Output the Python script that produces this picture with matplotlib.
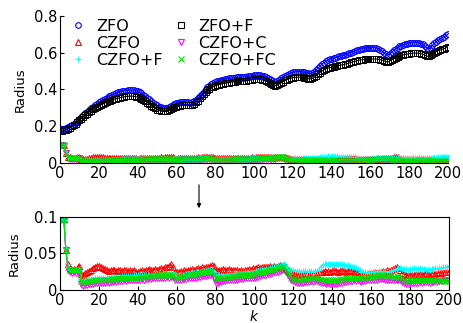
import matplotlib
matplotlib.use("Agg")
import matplotlib.pyplot as plt
from matplotlib.lines import Line2D

plt.rcParams['font.family'] = ['DejaVu Sans']

k = list(range(1, 201))

zfo = [0.185, 0.186, 0.190, 0.194, 0.200, 0.207, 0.214, 0.222, 0.231, 0.240,
       0.250, 0.260, 0.270, 0.280, 0.290, 0.299, 0.307, 0.315, 0.323, 0.330,
       0.337, 0.344, 0.350, 0.356, 0.362, 0.367, 0.372, 0.376, 0.380, 0.384,
       0.387, 0.390, 0.392, 0.394, 0.395, 0.396, 0.396, 0.395, 0.393, 0.390,
       0.385, 0.379, 0.372, 0.364, 0.355, 0.346, 0.337, 0.328, 0.320, 0.313,
       0.307, 0.302, 0.299, 0.298, 0.300, 0.304, 0.310, 0.316, 0.321, 0.325,
       0.329, 0.332, 0.333, 0.333, 0.332, 0.330, 0.329, 0.330, 0.336, 0.344,
       0.354, 0.365, 0.377, 0.389, 0.400, 0.411, 0.420, 0.428, 0.435, 0.440,
       0.444, 0.448, 0.451, 0.454, 0.456, 0.458, 0.460, 0.462, 0.463, 0.465,
       0.466, 0.466, 0.467, 0.468, 0.468, 0.469, 0.471, 0.473, 0.475, 0.477,
       0.478, 0.478, 0.477, 0.475, 0.472, 0.468, 0.463, 0.456, 0.450, 0.445,
       0.441, 0.445, 0.453, 0.461, 0.468, 0.475, 0.481, 0.486, 0.490, 0.493,
       0.495, 0.497, 0.497, 0.497, 0.496, 0.494, 0.491, 0.488, 0.486, 0.490,
       0.497, 0.506, 0.516, 0.527, 0.537, 0.546, 0.553, 0.559, 0.564, 0.568,
       0.571, 0.574, 0.577, 0.580, 0.583, 0.586, 0.589, 0.593, 0.597, 0.601,
       0.605, 0.609, 0.613, 0.617, 0.620, 0.623, 0.625, 0.627, 0.628, 0.628,
       0.628, 0.627, 0.625, 0.622, 0.617, 0.609, 0.600, 0.591, 0.588, 0.595,
       0.604, 0.613, 0.621, 0.628, 0.634, 0.639, 0.643, 0.647, 0.650, 0.652,
       0.654, 0.655, 0.655, 0.655, 0.653, 0.650, 0.645, 0.637, 0.627, 0.620,
       0.628, 0.640, 0.651, 0.661, 0.669, 0.676, 0.682, 0.688, 0.694, 0.700]

zfo_f = [0.175, 0.177, 0.181, 0.186, 0.192, 0.199, 0.206, 0.214, 0.223, 0.232,
         0.241, 0.250, 0.259, 0.268, 0.277, 0.285, 0.292, 0.299, 0.305, 0.311,
         0.317, 0.322, 0.327, 0.332, 0.336, 0.340, 0.344, 0.347, 0.350, 0.353,
         0.356, 0.358, 0.360, 0.362, 0.363, 0.364, 0.364, 0.363, 0.361, 0.358,
         0.354, 0.349, 0.343, 0.336, 0.328, 0.320, 0.312, 0.304, 0.297, 0.291,
         0.286, 0.283, 0.281, 0.281, 0.283, 0.287, 0.292, 0.298, 0.303, 0.307,
         0.310, 0.312, 0.314, 0.315, 0.315, 0.314, 0.313, 0.315, 0.321, 0.330,
         0.340, 0.351, 0.363, 0.375, 0.386, 0.396, 0.404, 0.411, 0.416, 0.420,
         0.424, 0.427, 0.430, 0.432, 0.434, 0.436, 0.438, 0.440, 0.441, 0.443,
         0.444, 0.444, 0.445, 0.446, 0.446, 0.447, 0.449, 0.451, 0.453, 0.455,
         0.456, 0.456, 0.455, 0.453, 0.450, 0.446, 0.441, 0.435, 0.429, 0.424,
         0.420, 0.423, 0.430, 0.437, 0.443, 0.449, 0.454, 0.458, 0.461, 0.464,
         0.466, 0.467, 0.467, 0.467, 0.466, 0.464, 0.462, 0.459, 0.457, 0.460,
         0.466, 0.474, 0.483, 0.492, 0.500, 0.507, 0.512, 0.516, 0.519, 0.522,
         0.524, 0.527, 0.529, 0.531, 0.533, 0.535, 0.538, 0.541, 0.544, 0.547,
         0.550, 0.553, 0.556, 0.559, 0.561, 0.563, 0.564, 0.565, 0.566, 0.566,
         0.566, 0.566, 0.566, 0.565, 0.563, 0.560, 0.556, 0.551, 0.550, 0.555,
         0.561, 0.567, 0.572, 0.577, 0.581, 0.585, 0.588, 0.591, 0.593, 0.595,
         0.597, 0.598, 0.598, 0.598, 0.597, 0.595, 0.592, 0.587, 0.582, 0.580,
         0.585, 0.593, 0.600, 0.606, 0.611, 0.615, 0.619, 0.623, 0.627, 0.631]

czfo = [0.100, 0.097, 0.055, 0.035, 0.030, 0.028, 0.029, 0.028, 0.031, 0.033,
        0.022, 0.021, 0.023, 0.024, 0.026, 0.028, 0.030, 0.032, 0.033, 0.033,
        0.032, 0.030, 0.029, 0.028, 0.026, 0.027, 0.028, 0.027, 0.026, 0.028,
        0.027, 0.026, 0.028, 0.027, 0.026, 0.027, 0.026, 0.028, 0.025, 0.024,
        0.026, 0.027, 0.026, 0.028, 0.027, 0.029, 0.028, 0.027, 0.029, 0.028,
        0.029, 0.030, 0.029, 0.031, 0.032, 0.033, 0.035, 0.031, 0.025, 0.024,
        0.025, 0.026, 0.025, 0.027, 0.026, 0.028, 0.027, 0.029, 0.028, 0.029,
        0.030, 0.029, 0.031, 0.030, 0.032, 0.031, 0.033, 0.034, 0.033, 0.027,
        0.026, 0.028, 0.027, 0.029, 0.028, 0.027, 0.029, 0.028, 0.027, 0.028,
        0.027, 0.026, 0.028, 0.026, 0.027, 0.028, 0.029, 0.028, 0.030, 0.029,
        0.030, 0.031, 0.030, 0.031, 0.032, 0.031, 0.032, 0.033, 0.032, 0.033,
        0.032, 0.033, 0.034, 0.033, 0.034, 0.030, 0.027, 0.025, 0.024, 0.023,
        0.022, 0.021, 0.022, 0.021, 0.022, 0.023, 0.022, 0.021, 0.023, 0.022,
        0.023, 0.022, 0.024, 0.025, 0.024, 0.026, 0.025, 0.026, 0.025, 0.026,
        0.027, 0.026, 0.025, 0.026, 0.027, 0.026, 0.025, 0.026, 0.027, 0.026,
        0.025, 0.026, 0.024, 0.022, 0.020, 0.021, 0.022, 0.021, 0.023, 0.022,
        0.023, 0.024, 0.023, 0.025, 0.024, 0.026, 0.025, 0.027, 0.026, 0.028,
        0.029, 0.030, 0.031, 0.030, 0.027, 0.023, 0.022, 0.021, 0.020, 0.021,
        0.020, 0.021, 0.022, 0.021, 0.022, 0.021, 0.022, 0.023, 0.022, 0.021,
        0.022, 0.023, 0.022, 0.023, 0.024, 0.023, 0.024, 0.025, 0.024, 0.025]

czfo_c = [0.100, 0.095, 0.055, 0.028, 0.024, 0.023, 0.024, 0.023, 0.024, 0.025,
          0.008, 0.006, 0.007, 0.007, 0.008, 0.008, 0.008, 0.009, 0.009, 0.009,
          0.010, 0.010, 0.010, 0.011, 0.010, 0.011, 0.011, 0.012, 0.011, 0.012,
          0.012, 0.012, 0.013, 0.012, 0.013, 0.013, 0.014, 0.013, 0.014, 0.014,
          0.014, 0.015, 0.014, 0.015, 0.015, 0.016, 0.015, 0.016, 0.016, 0.016,
          0.017, 0.016, 0.017, 0.017, 0.018, 0.017, 0.018, 0.018, 0.013, 0.013,
          0.014, 0.014, 0.015, 0.015, 0.015, 0.016, 0.016, 0.017, 0.017, 0.017,
          0.018, 0.018, 0.019, 0.019, 0.019, 0.020, 0.020, 0.021, 0.016, 0.010,
          0.010, 0.011, 0.011, 0.012, 0.012, 0.013, 0.013, 0.013, 0.014, 0.014,
          0.014, 0.015, 0.015, 0.015, 0.016, 0.016, 0.016, 0.017, 0.017, 0.017,
          0.018, 0.018, 0.019, 0.020, 0.020, 0.021, 0.022, 0.022, 0.023, 0.024,
          0.024, 0.025, 0.026, 0.027, 0.028, 0.024, 0.020, 0.017, 0.014, 0.012,
          0.011, 0.010, 0.009, 0.010, 0.010, 0.011, 0.011, 0.011, 0.012, 0.011,
          0.012, 0.012, 0.011, 0.010, 0.009, 0.009, 0.008, 0.009, 0.008, 0.009,
          0.008, 0.008, 0.009, 0.010, 0.010, 0.011, 0.011, 0.012, 0.012, 0.012,
          0.013, 0.012, 0.013, 0.012, 0.011, 0.012, 0.012, 0.013, 0.013, 0.013,
          0.014, 0.014, 0.014, 0.015, 0.015, 0.015, 0.014, 0.014, 0.014, 0.014,
          0.013, 0.013, 0.014, 0.013, 0.013, 0.011, 0.009, 0.008, 0.008, 0.009,
          0.009, 0.010, 0.010, 0.010, 0.011, 0.010, 0.011, 0.011, 0.011, 0.010,
          0.011, 0.011, 0.012, 0.011, 0.012, 0.012, 0.012, 0.013, 0.012, 0.012]

czfo_f = [0.100, 0.096, 0.056, 0.032, 0.027, 0.027, 0.028, 0.027, 0.028, 0.028,
          0.014, 0.013, 0.014, 0.014, 0.015, 0.015, 0.015, 0.016, 0.016, 0.016,
          0.016, 0.017, 0.017, 0.017, 0.017, 0.018, 0.018, 0.018, 0.018, 0.018,
          0.018, 0.019, 0.019, 0.019, 0.019, 0.019, 0.019, 0.020, 0.020, 0.020,
          0.020, 0.020, 0.021, 0.021, 0.021, 0.021, 0.021, 0.022, 0.022, 0.022,
          0.022, 0.022, 0.023, 0.023, 0.023, 0.023, 0.023, 0.024, 0.020, 0.019,
          0.020, 0.020, 0.021, 0.021, 0.022, 0.022, 0.022, 0.023, 0.023, 0.024,
          0.024, 0.025, 0.025, 0.026, 0.026, 0.027, 0.027, 0.028, 0.024, 0.020,
          0.020, 0.020, 0.021, 0.021, 0.021, 0.022, 0.022, 0.022, 0.022, 0.023,
          0.023, 0.023, 0.023, 0.024, 0.024, 0.024, 0.024, 0.025, 0.025, 0.025,
          0.026, 0.026, 0.027, 0.027, 0.028, 0.029, 0.029, 0.030, 0.031, 0.031,
          0.032, 0.033, 0.033, 0.034, 0.035, 0.032, 0.029, 0.028, 0.027, 0.027,
          0.026, 0.026, 0.026, 0.025, 0.026, 0.026, 0.025, 0.026, 0.026, 0.025,
          0.026, 0.026, 0.027, 0.032, 0.034, 0.035, 0.035, 0.036, 0.035, 0.036,
          0.036, 0.035, 0.036, 0.035, 0.035, 0.034, 0.033, 0.034, 0.033, 0.032,
          0.031, 0.030, 0.029, 0.027, 0.025, 0.024, 0.024, 0.023, 0.024, 0.024,
          0.024, 0.025, 0.025, 0.026, 0.026, 0.025, 0.026, 0.025, 0.025, 0.026,
          0.027, 0.028, 0.029, 0.030, 0.030, 0.029, 0.029, 0.029, 0.028, 0.029,
          0.029, 0.030, 0.029, 0.029, 0.030, 0.029, 0.029, 0.028, 0.029, 0.028,
          0.029, 0.029, 0.030, 0.029, 0.030, 0.030, 0.031, 0.031, 0.032, 0.033]

czfo_fc = [0.100, 0.096, 0.055, 0.031, 0.027, 0.027, 0.028, 0.027, 0.028, 0.028,
           0.012, 0.010, 0.011, 0.011, 0.012, 0.012, 0.012, 0.013, 0.013, 0.013,
           0.013, 0.014, 0.014, 0.014, 0.014, 0.015, 0.015, 0.015, 0.015, 0.016,
           0.016, 0.016, 0.016, 0.016, 0.017, 0.017, 0.017, 0.017, 0.017, 0.017,
           0.018, 0.018, 0.018, 0.018, 0.019, 0.019, 0.019, 0.019, 0.019, 0.020,
           0.020, 0.020, 0.020, 0.020, 0.021, 0.021, 0.021, 0.021, 0.017, 0.017,
           0.018, 0.018, 0.019, 0.019, 0.020, 0.020, 0.021, 0.021, 0.022, 0.022,
           0.023, 0.023, 0.024, 0.024, 0.025, 0.025, 0.026, 0.026, 0.021, 0.016,
           0.016, 0.016, 0.017, 0.017, 0.017, 0.018, 0.018, 0.018, 0.019, 0.019,
           0.019, 0.020, 0.020, 0.020, 0.021, 0.021, 0.021, 0.021, 0.022, 0.022,
           0.023, 0.023, 0.024, 0.025, 0.025, 0.026, 0.027, 0.027, 0.028, 0.029,
           0.029, 0.030, 0.031, 0.031, 0.032, 0.028, 0.024, 0.020, 0.017, 0.015,
           0.014, 0.013, 0.013, 0.014, 0.015, 0.015, 0.016, 0.015, 0.016, 0.016,
           0.016, 0.016, 0.015, 0.015, 0.014, 0.014, 0.013, 0.014, 0.013, 0.014,
           0.014, 0.014, 0.014, 0.015, 0.015, 0.015, 0.016, 0.016, 0.016, 0.016,
           0.017, 0.016, 0.017, 0.016, 0.016, 0.016, 0.017, 0.017, 0.018, 0.018,
           0.018, 0.019, 0.019, 0.020, 0.020, 0.020, 0.019, 0.019, 0.019, 0.019,
           0.018, 0.018, 0.019, 0.018, 0.018, 0.016, 0.013, 0.012, 0.012, 0.013,
           0.013, 0.013, 0.014, 0.013, 0.014, 0.014, 0.013, 0.014, 0.013, 0.013,
           0.013, 0.014, 0.013, 0.013, 0.013, 0.012, 0.013, 0.012, 0.012, 0.012]

labels = ["ZFO", "CZFO", "CZFO+F", "ZFO+F", "CZFO+C", "CZFO+FC"]
series = [zfo, czfo, czfo_f, zfo_f, czfo_c, czfo_fc]
colors = ["#0000ff", "#ff0000", "#00ffff", "#000000", "#ff00ff", "#00e000"]
markers = ["o", "^", "+", "s", "v", "x"]
draw_order = [0, 3, 4, 1, 2, 5]

fig = plt.figure(figsize=(4.63, 3.23), dpi=100)
ax1 = fig.add_axes([0.1296, 0.4954, 0.8380, 0.4551])
ax2 = fig.add_axes([0.1296, 0.1022, 0.8402, 0.2260])

def draw(ax):
    for i in draw_order:
        filled = markers[i] in ("+", "x")
        ax.plot(k, series[i], color=colors[i], marker=markers[i], markersize=4.2,
                markerfacecolor=colors[i] if filled else "none",
                markeredgewidth=0.7, linewidth=0.8, clip_on=True)

draw(ax1)
draw(ax2)

# top axes styling
ax1.set_xlim(0, 200)
ax1.set_ylim(0, 0.8)
ax1.set_xticks(range(0, 201, 20))
ax1.set_yticks([0, 0.2, 0.4, 0.6, 0.8])
ax1.set_yticklabels(["0", "0.2", "0.4", "0.6", "0.8"])
ax1.spines['top'].set_visible(False)
ax1.spines['right'].set_visible(False)
ax1.tick_params(direction='in', length=3, labelsize=10.5, pad=2)
ax1.set_ylabel("Radius", fontsize=9.5, labelpad=5)

ax2.set_xlim(0, 200)
ax2.set_ylim(0, 0.1)
ax2.set_xticks(range(0, 201, 20))
ax2.set_yticks([0, 0.05, 0.1])
ax2.set_yticklabels(["0", "0.05", "0.1"])
ax2.tick_params(direction='in', length=3, labelsize=10.5, pad=2)
ax2.set_ylabel("Radius", fontsize=9.5, labelpad=3)
ax2.set_xlabel("$k$", fontsize=10, labelpad=1)

for ax in (ax1, ax2):
    for s in ax.spines.values():
        s.set_linewidth(0.8)

handles = []
for i in range(6):
    filled = markers[i] in ("+", "x")
    handles.append(Line2D([], [], linestyle="none", color=colors[i], marker=markers[i],
                          markersize=4, markeredgewidth=0.8,
                          markerfacecolor=colors[i] if filled else "none"))
ax1.legend(handles, labels, ncol=2, loc="upper left", bbox_to_anchor=(0.0, 1.045),
           frameon=False, fontsize=11.5, handlelength=1.1, handletextpad=0.55,
           columnspacing=0.6, labelspacing=0.12, borderaxespad=0.2)

fig.patches.append(matplotlib.patches.FancyArrowPatch(
    (199 / 463, 1 - 182 / 323), (199 / 463, 1 - 211 / 323),
    transform=fig.transFigure, arrowstyle="-|>", mutation_scale=6,
    color="black", linewidth=0.8))

fig.savefig("out.png", dpi=100)
